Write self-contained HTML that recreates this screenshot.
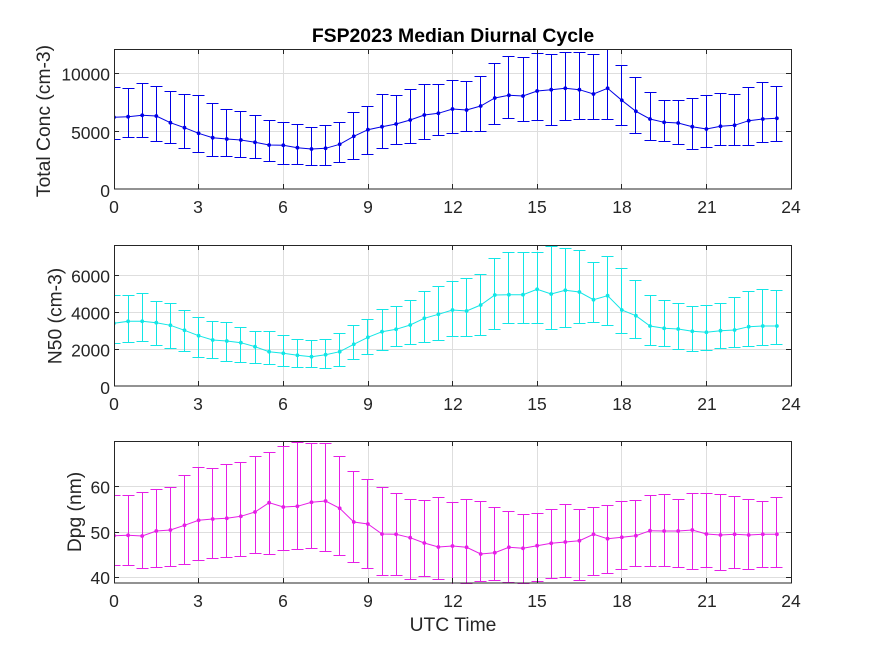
<!DOCTYPE html>
<html>
<head>
<meta charset="utf-8">
<style>
html,body{margin:0;padding:0;background:#fff;}
svg{display:block;}
text{font-family:"Liberation Sans",Arial,sans-serif;}
</style>
</head>
<body>
<svg width="875" height="656" viewBox="0 0 875 656" xmlns="http://www.w3.org/2000/svg">
<defs>
  <clipPath id="c1"><rect x="114" y="49" width="678" height="141"/></clipPath>
  <clipPath id="c2"><rect x="114" y="245" width="678" height="142"/></clipPath>
  <clipPath id="c3"><rect x="114" y="441" width="678" height="143"/></clipPath>
  <marker id="mb" markerUnits="userSpaceOnUse" markerWidth="5" markerHeight="5" refX="2.5" refY="2.5" viewBox="0 0 5 5"><circle cx="2.5" cy="2.5" r="1.9" fill="#0000e6"/></marker>
  <marker id="mc" markerUnits="userSpaceOnUse" markerWidth="5" markerHeight="5" refX="2.5" refY="2.5" viewBox="0 0 5 5"><circle cx="2.5" cy="2.5" r="1.9" fill="#12e6e6"/></marker>
  <marker id="mm" markerUnits="userSpaceOnUse" markerWidth="5" markerHeight="5" refX="2.5" refY="2.5" viewBox="0 0 5 5"><circle cx="2.5" cy="2.5" r="1.9" fill="#e61ee6"/></marker>
</defs>
<rect width="875" height="656" fill="#fff"/>

<!-- grids -->
<g stroke="#dedede" stroke-width="1" fill="none">
  <path d="M198.5 49V189M283.5 49V189M368.5 49V189M452.5 49V189M537.5 49V189M621.5 49V189M706.5 49V189M114 131.5H791M114 73.5H791"/>
  <path d="M198.5 245V386M283.5 245V386M368.5 245V386M452.5 245V386M537.5 245V386M621.5 245V386M706.5 245V386M114 349.5H791M114 312.5H791M114 275.5H791"/>
  <path d="M198.5 441V583M283.5 441V583M368.5 441V583M452.5 441V583M537.5 441V583M621.5 441V583M706.5 441V583M114 577.5H791M114 532.5H791M114 486.5H791"/>
</g>

<!-- PLOT 1 -->
<g clip-path="url(#c1)" fill="none" stroke="#0000e6" stroke-width="1">
<path d="M114.5 87.5V139.5h6h-12h6V87.5h6h-12
M128.5 88.5V137.5h6h-12h6V88.5h6h-12
M142.5 83.5V137.5h6h-12h6V83.5h6h-12
M156.5 86.5V141.5h6h-12h6V86.5h6h-12
M170.5 91.5V143.5h6h-12h6V91.5h6h-12
M184.5 94.5V148.5h6h-12h6V94.5h6h-12
M198.5 95.5V152.5h6h-12h6V95.5h6h-12
M212.5 103.5V156.5h6h-12h6V103.5h6h-12
M226.5 109.5V156.5h6h-12h6V109.5h6h-12
M240.5 111.5V157.5h6h-12h6V111.5h6h-12
M255.5 115.5V158.5h6h-12h6V115.5h6h-12
M269.5 120.5V161.5h6h-12h6V120.5h6h-12
M283.5 122.5V164.5h6h-12h6V122.5h6h-12
M297.5 124.5V164.5h6h-12h6V124.5h6h-12
M311.5 127.5V165.5h6h-12h6V127.5h6h-12
M325.5 125.5V165.5h6h-12h6V125.5h6h-12
M339.5 122.5V162.5h6h-12h6V122.5h6h-12
M353.5 112.5V159.5h6h-12h6V112.5h6h-12
M367.5 106.5V154.5h6h-12h6V106.5h6h-12
M382.5 94.5V148.5h6h-12h6V94.5h6h-12
M396.5 95.5V144.5h6h-12h6V95.5h6h-12
M410.5 89.5V143.5h6h-12h6V89.5h6h-12
M424.5 84.5V139.5h6h-12h6V84.5h6h-12
M438.5 84.5V135.5h6h-12h6V84.5h6h-12
M452.5 80.5V133.5h6h-12h6V80.5h6h-12
M466.5 81.5V131.5h6h-12h6V81.5h6h-12
M480.5 76.5V131.5h6h-12h6V76.5h6h-12
M494.5 63.5V124.5h6h-12h6V63.5h6h-12
M508.5 56.5V118.5h6h-12h6V56.5h6h-12
M523.5 57.5V121.5h6h-12h6V57.5h6h-12
M537.5 53.5V120.5h6h-12h6V53.5h6h-12
M551.5 54.5V125.5h6h-12h6V54.5h6h-12
M565.5 52.5V120.5h6h-12h6V52.5h6h-12
M579.5 52.5V119.5h6h-12h6V52.5h6h-12
M593.5 54.5V119.5h6h-12h6V54.5h6h-12
M607.5 46.5V119.5h6h-12h6V46.5h6h-12
M621.5 65.5V125.5h6h-12h6V65.5h6h-12
M635.5 77.5V133.5h6h-12h6V77.5h6h-12
M650.5 92.5V140.5h6h-12h6V92.5h6h-12
M664.5 100.5V141.5h6h-12h6V100.5h6h-12
M678.5 100.5V144.5h6h-12h6V100.5h6h-12
M692.5 98.5V149.5h6h-12h6V98.5h6h-12
M706.5 95.5V147.5h6h-12h6V95.5h6h-12
M720.5 93.5V145.5h6h-12h6V93.5h6h-12
M734.5 94.5V145.5h6h-12h6V94.5h6h-12
M748.5 87.5V145.5h6h-12h6V87.5h6h-12
M762.5 82.5V142.5h6h-12h6V82.5h6h-12
M776.5 86.5V141.5h6h-12h6V86.5h6h-12"/>
<polyline marker-start="url(#mb)" marker-mid="url(#mb)" marker-end="url(#mb)" points="114,117.3 128.1,116.7 142.2,115.3 156.3,116 170.4,122.7 184.5,127.7 198.6,133.3 212.7,137.7 226.8,139 240.9,140 255,142.3 269.1,145 283.3,145.3 297.4,147.7 311.5,149 325.6,148.3 339.7,144.3 353.8,136.3 367.9,129.7 382,126.7 396.1,124 410.2,120 424.3,115 438.4,113.3 452.5,109 466.6,110 480.7,106 494.8,98 508.9,95.3 523,96 537.1,91 551.2,89.7 565.3,88.3 579.4,89.7 593.5,94 607.6,88.3 621.8,100.3 635.9,111.3 650,119 664.1,122.3 678.2,123 692.3,126.7 706.4,129 720.5,126.3 734.6,125.3 748.7,120.7 762.8,119 776.9,118.3"/>
</g>

<!-- PLOT 2 -->
<g clip-path="url(#c2)" fill="none" stroke="#12e6e6" stroke-width="1">
<path d="M114.5 295.5V343.5h6h-12h6V295.5h6h-12
M128.5 295.5V342.5h6h-12h6V295.5h6h-12
M142.5 293.5V341.5h6h-12h6V293.5h6h-12
M156.5 301.5V345.5h6h-12h6V301.5h6h-12
M170.5 303.5V348.5h6h-12h6V303.5h6h-12
M184.5 310.5V351.5h6h-12h6V310.5h6h-12
M198.5 317.5V357.5h6h-12h6V317.5h6h-12
M212.5 321.5V358.5h6h-12h6V321.5h6h-12
M226.5 322.5V361.5h6h-12h6V322.5h6h-12
M240.5 327.5V362.5h6h-12h6V327.5h6h-12
M255.5 331.5V363.5h6h-12h6V331.5h6h-12
M269.5 331.5V364.5h6h-12h6V331.5h6h-12
M283.5 335.5V366.5h6h-12h6V335.5h6h-12
M297.5 339.5V367.5h6h-12h6V339.5h6h-12
M311.5 340.5V367.5h6h-12h6V340.5h6h-12
M325.5 339.5V368.5h6h-12h6V339.5h6h-12
M339.5 333.5V366.5h6h-12h6V333.5h6h-12
M353.5 325.5V359.5h6h-12h6V325.5h6h-12
M367.5 319.5V354.5h6h-12h6V319.5h6h-12
M382.5 309.5V350.5h6h-12h6V309.5h6h-12
M396.5 306.5V346.5h6h-12h6V306.5h6h-12
M410.5 300.5V344.5h6h-12h6V300.5h6h-12
M424.5 291.5V342.5h6h-12h6V291.5h6h-12
M438.5 286.5V340.5h6h-12h6V286.5h6h-12
M452.5 281.5V336.5h6h-12h6V281.5h6h-12
M466.5 278.5V336.5h6h-12h6V278.5h6h-12
M480.5 274.5V335.5h6h-12h6V274.5h6h-12
M494.5 258.5V329.5h6h-12h6V258.5h6h-12
M508.5 252.5V323.5h6h-12h6V252.5h6h-12
M523.5 252.5V323.5h6h-12h6V252.5h6h-12
M537.5 252.5V323.5h6h-12h6V252.5h6h-12
M551.5 246.5V329.5h6h-12h6V246.5h6h-12
M565.5 248.5V327.5h6h-12h6V248.5h6h-12
M579.5 250.5V323.5h6h-12h6V250.5h6h-12
M593.5 262.5V322.5h6h-12h6V262.5h6h-12
M607.5 256.5V325.5h6h-12h6V256.5h6h-12
M621.5 268.5V333.5h6h-12h6V268.5h6h-12
M635.5 280.5V338.5h6h-12h6V280.5h6h-12
M650.5 295.5V345.5h6h-12h6V295.5h6h-12
M664.5 300.5V346.5h6h-12h6V300.5h6h-12
M678.5 303.5V349.5h6h-12h6V303.5h6h-12
M692.5 306.5V351.5h6h-12h6V306.5h6h-12
M706.5 305.5V350.5h6h-12h6V305.5h6h-12
M720.5 303.5V348.5h6h-12h6V303.5h6h-12
M734.5 297.5V347.5h6h-12h6V297.5h6h-12
M748.5 291.5V346.5h6h-12h6V291.5h6h-12
M762.5 289.5V345.5h6h-12h6V289.5h6h-12
M776.5 290.5V344.5h6h-12h6V290.5h6h-12"/>
<polyline marker-start="url(#mc)" marker-mid="url(#mc)" marker-end="url(#mc)" points="114,323.3 128.1,321.3 142.2,321.3 156.3,322.7 170.4,325.3 184.5,330.3 198.6,335.7 212.7,340 226.8,341 240.9,342.7 255,346.7 269.1,351.7 283.3,353.3 297.4,355.3 311.5,356.7 325.6,354.7 339.7,351.7 353.8,344.3 367.9,337.3 382,331.7 396.1,329.3 410.2,325 424.3,318.3 438.4,314.3 452.5,310 466.6,311 480.7,305 494.8,295 508.9,294.7 523,294.7 537.1,289.3 551.2,294 565.3,290.3 579.4,292 593.5,299.7 607.6,295.7 621.8,310 635.9,315.7 650,326 664.1,328.3 678.2,329 692.3,331.3 706.4,332.3 720.5,330.7 734.6,330 748.7,326.7 762.8,326 776.9,326"/>
</g>

<!-- PLOT 3 -->
<g clip-path="url(#c3)" fill="none" stroke="#e61ee6" stroke-width="1">
<path d="M114.5 495.5V565.5h6h-12h6V495.5h6h-12
M128.5 495.5V565.5h6h-12h6V495.5h6h-12
M142.5 492.5V568.5h6h-12h6V492.5h6h-12
M156.5 489.5V567.5h6h-12h6V489.5h6h-12
M170.5 487.5V566.5h6h-12h6V487.5h6h-12
M184.5 475.5V564.5h6h-12h6V475.5h6h-12
M198.5 467.5V560.5h6h-12h6V467.5h6h-12
M212.5 468.5V558.5h6h-12h6V468.5h6h-12
M226.5 464.5V557.5h6h-12h6V464.5h6h-12
M240.5 462.5V556.5h6h-12h6V462.5h6h-12
M255.5 456.5V553.5h6h-12h6V456.5h6h-12
M269.5 452.5V554.5h6h-12h6V452.5h6h-12
M283.5 446.5V550.5h6h-12h6V446.5h6h-12
M297.5 442.5V549.5h6h-12h6V442.5h6h-12
M311.5 443.5V548.5h6h-12h6V443.5h6h-12
M325.5 443.5V551.5h6h-12h6V443.5h6h-12
M339.5 456.5V555.5h6h-12h6V456.5h6h-12
M353.5 471.5V562.5h6h-12h6V471.5h6h-12
M367.5 479.5V568.5h6h-12h6V479.5h6h-12
M382.5 487.5V575.5h6h-12h6V487.5h6h-12
M396.5 493.5V575.5h6h-12h6V493.5h6h-12
M410.5 499.5V579.5h6h-12h6V499.5h6h-12
M424.5 500.5V576.5h6h-12h6V500.5h6h-12
M438.5 497.5V579.5h6h-12h6V497.5h6h-12
M452.5 502.5V586.5h6h-12h6V502.5h6h-12
M466.5 499.5V583.5h6h-12h6V499.5h6h-12
M480.5 501.5V581.5h6h-12h6V501.5h6h-12
M494.5 507.5V580.5h6h-12h6V507.5h6h-12
M508.5 511.5V582.5h6h-12h6V511.5h6h-12
M523.5 514.5V583.5h6h-12h6V514.5h6h-12
M537.5 513.5V581.5h6h-12h6V513.5h6h-12
M551.5 509.5V578.5h6h-12h6V509.5h6h-12
M565.5 504.5V577.5h6h-12h6V504.5h6h-12
M579.5 509.5V580.5h6h-12h6V509.5h6h-12
M593.5 507.5V575.5h6h-12h6V507.5h6h-12
M607.5 505.5V573.5h6h-12h6V505.5h6h-12
M621.5 501.5V569.5h6h-12h6V501.5h6h-12
M635.5 500.5V566.5h6h-12h6V500.5h6h-12
M650.5 495.5V566.5h6h-12h6V495.5h6h-12
M664.5 494.5V566.5h6h-12h6V494.5h6h-12
M678.5 499.5V567.5h6h-12h6V499.5h6h-12
M692.5 493.5V569.5h6h-12h6V493.5h6h-12
M706.5 493.5V567.5h6h-12h6V493.5h6h-12
M720.5 494.5V570.5h6h-12h6V494.5h6h-12
M734.5 496.5V568.5h6h-12h6V496.5h6h-12
M748.5 499.5V569.5h6h-12h6V499.5h6h-12
M762.5 501.5V567.5h6h-12h6V501.5h6h-12
M776.5 497.5V567.5h6h-12h6V497.5h6h-12"/>
<polyline marker-start="url(#mm)" marker-mid="url(#mm)" marker-end="url(#mm)" points="114,535.7 128.1,535.3 142.2,536 156.3,531 170.4,530 184.5,525.3 198.6,520.3 212.7,519 226.8,518.3 240.9,516.3 255,512 269.1,502.7 283.3,507 297.4,506.3 311.5,502.3 325.6,501 339.7,508.3 353.8,522 367.9,524 382,534 396.1,534.3 410.2,537.7 424.3,543 438.4,547 452.5,546 466.6,547.3 480.7,554 494.8,552.7 508.9,547.3 523,548.3 537.1,545.7 551.2,543.3 565.3,542 579.4,540.7 593.5,534.3 607.6,538.7 621.8,537.3 635.9,535.7 650,530.7 664.1,531 678.2,531 692.3,530 706.4,534 720.5,535 734.6,534.3 748.7,535 762.8,534.3 776.9,534.3"/>
</g>

<!-- axes boxes and ticks -->
<g stroke="#262626" stroke-width="1" fill="none">
  <rect x="114.5" y="49.5" width="677" height="139.5"/>
  <rect x="114.5" y="245.5" width="677" height="140.5"/>
  <rect x="114.5" y="441.5" width="677" height="141.5"/>
  <path d="M198.5 189v-5M283.5 189v-5M368.5 189v-5M452.5 189v-5M537.5 189v-5M621.5 189v-5M706.5 189v-5M198.5 49v5M283.5 49v5M368.5 49v5M452.5 49v5M537.5 49v5M621.5 49v5M706.5 49v5M114 131.5h5M114 73.5h5M791 131.5h-5M791 73.5h-5"/>
  <path d="M198.5 386v-5M283.5 386v-5M368.5 386v-5M452.5 386v-5M537.5 386v-5M621.5 386v-5M706.5 386v-5M198.5 245v5M283.5 245v5M368.5 245v5M452.5 245v5M537.5 245v5M621.5 245v5M706.5 245v5M114 349.5h5M114 312.5h5M114 275.5h5M791 349.5h-5M791 312.5h-5M791 275.5h-5"/>
  <path d="M198.5 583v-5M283.5 583v-5M368.5 583v-5M452.5 583v-5M537.5 583v-5M621.5 583v-5M706.5 583v-5M198.5 441v5M283.5 441v5M368.5 441v5M452.5 441v5M537.5 441v5M621.5 441v5M706.5 441v5M114 577.5h5M114 532.5h5M114 486.5h5M791 577.5h-5M791 532.5h-5M791 486.5h-5"/>
</g>

<!-- tick labels -->
<g font-size="17.5" fill="#262626" text-anchor="middle">
  <text x="114" y="213">0</text><text x="198" y="213">3</text><text x="283" y="213">6</text><text x="368" y="213">9</text><text x="453" y="213">12</text><text x="537" y="213">15</text><text x="622" y="213">18</text><text x="707" y="213">21</text><text x="791" y="213">24</text>
  <text x="114" y="410">0</text><text x="198" y="410">3</text><text x="283" y="410">6</text><text x="368" y="410">9</text><text x="453" y="410">12</text><text x="537" y="410">15</text><text x="622" y="410">18</text><text x="707" y="410">21</text><text x="791" y="410">24</text>
  <text x="114" y="607">0</text><text x="198" y="607">3</text><text x="283" y="607">6</text><text x="368" y="607">9</text><text x="453" y="607">12</text><text x="537" y="607">15</text><text x="622" y="607">18</text><text x="707" y="607">21</text><text x="791" y="607">24</text>
</g>
<g font-size="17.5" fill="#262626" text-anchor="end">
  <text x="110" y="197">0</text><text x="110" y="139">5000</text><text x="110" y="80.5">10000</text>
  <text x="110" y="394">0</text><text x="110" y="356.5">2000</text><text x="110" y="319.5">4000</text><text x="110" y="282.5">6000</text>
  <text x="110" y="584">40</text><text x="110" y="539">50</text><text x="110" y="493.5">60</text>
</g>

<!-- axis labels and title -->
<g font-size="19.3" fill="#262626" text-anchor="middle">
  <text transform="translate(50,121) rotate(-90)">Total Conc (cm-3)</text>
  <text transform="translate(61.5,316) rotate(-90)">N50 (cm-3)</text>
  <text transform="translate(81,512) rotate(-90)">Dpg (nm)</text>
  <text x="453" y="631">UTC Time</text>
</g>
<text x="453" y="42" font-size="19.4" font-weight="bold" fill="#000" text-anchor="middle">FSP2023 Median Diurnal Cycle</text>
</svg>
</body>
</html>
